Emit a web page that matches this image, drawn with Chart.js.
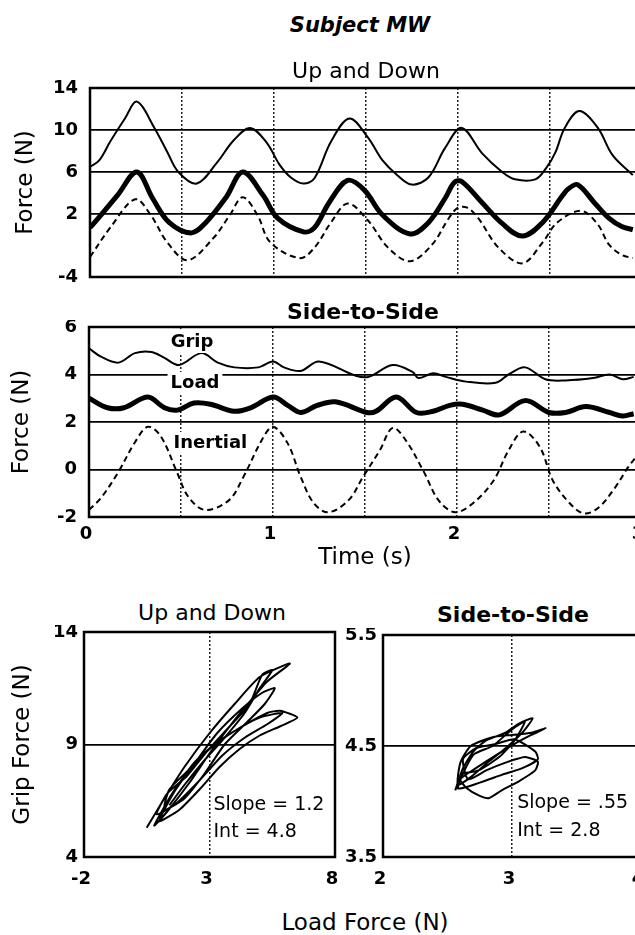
<!DOCTYPE html>
<html>
<head>
<meta charset="utf-8">
<title>Subject MW</title>
<script src="https://cdn.jsdelivr.net/npm/chart.js@4.4.0/dist/chart.umd.min.js"></script>
<style>
  html, body { margin: 0; padding: 0; background: #fff; width: 635px; height: 935px; overflow: hidden; }
  #fig { position: relative; width: 635px; height: 935px; overflow: hidden; }
  canvas { position: absolute; }
  .lbl { position: absolute; transform: translate(-50%, -50%); white-space: nowrap;
         font-family: "DejaVu Sans", sans-serif; color: #000; line-height: 1; }
</style>
</head>
<body>
<div id="fig">
  <canvas id="udTime" width="650" height="205" style="left:0;top:80px"></canvas>
  <canvas id="ssTime" width="650" height="252" style="left:0;top:320px"></canvas>
  <canvas id="udLoop" width="345" height="280" style="left:0;top:625px"></canvas>
  <canvas id="ssLoop" width="300" height="277" style="left:345px;top:628px"></canvas>

  <div class="lbl" style="left:360px;top:25px;font-size:21px;font-weight:bold;font-style:italic">Subject MW</div>
  <div class="lbl" style="left:366px;top:71px;font-size:22px">Up and Down</div>
  <div class="lbl" style="left:363px;top:312px;font-size:22px;font-weight:bold">Side-to-Side</div>
  <div class="lbl" style="left:212px;top:613px;font-size:22px">Up and Down</div>
  <div class="lbl" style="left:513px;top:615px;font-size:22px;font-weight:bold">Side-to-Side</div>
  <div class="lbl" style="left:365px;top:922px;font-size:23px">Load Force (N)</div>
</div>

<script>
// ---- Up and Down: force vs time (s) ----
const udGripTime  = [0, 0.05, 0.11, 0.19, 0.255, 0.35, 0.42, 0.48, 0.58, 0.69, 0.78, 0.87, 0.96, 1.03, 1.09, 1.16, 1.22, 1.31, 1.41, 1.51, 1.59, 1.67, 1.75, 1.84, 1.93, 2.02, 2.13, 2.24, 2.31, 2.42, 2.48, 2.53, 2.58, 2.66, 2.76, 2.84, 2.95];
const udGripForce = [6.5, 7.1, 8.9, 11.1, 12.7, 10.2, 7.9, 6.0, 4.9, 6.9, 9.0, 10.2, 8.8, 6.7, 5.5, 4.9, 5.4, 8.9, 11.1, 9.3, 7.1, 5.7, 4.8, 5.5, 8.3, 10.2, 7.8, 6.0, 5.3, 5.3, 6.4, 7.9, 10.2, 11.8, 10.2, 7.6, 5.7];

const udLoadTime  = [0, 0.05, 0.15, 0.255, 0.34, 0.43, 0.55, 0.63, 0.74, 0.83, 0.94, 1.02, 1.16, 1.22, 1.30, 1.40, 1.49, 1.59, 1.74, 1.84, 1.93, 1.98, 2.02, 2.13, 2.24, 2.35, 2.46, 2.57, 2.60, 2.65, 2.74, 2.82, 2.89, 2.95];
const udLoadForce = [0.7, 1.7, 3.8, 6.0, 3.5, 1.2, 0.2, 1.2, 3.6, 6.0, 3.8, 1.6, 0.3, 0.7, 3.1, 5.2, 4.3, 1.9, 0.1, 1.2, 3.5, 5.0, 5.1, 3.1, 1.1, -0.1, 1.2, 3.8, 4.4, 4.8, 3.1, 1.6, 0.8, 0.5];

const udInertTime  = [0, 0.11, 0.245, 0.33, 0.42, 0.53, 0.67, 0.76, 0.83, 0.91, 0.98, 1.14, 1.22, 1.31, 1.40, 1.51, 1.62, 1.74, 1.86, 1.95, 2.0, 2.05, 2.11, 2.22, 2.35, 2.46, 2.54, 2.67, 2.76, 2.82, 2.89, 2.95];
const udInertForce = [-2.1, 0.7, 3.4, 1.9, -0.7, -2.4, -0.3, 1.9, 3.6, 1.9, -0.7, -2.2, -1.2, 1.2, 3.0, 1.4, -1.2, -2.5, -0.9, 1.6, 2.6, 2.6, 1.6, -1.2, -2.7, -0.7, 1.2, 2.3, 1.0, -0.9, -1.9, -2.2];

const udForceTicks = [-4, 2, 6, 10, 14];

// ---- Side-to-Side: force vs time (s) ----
const ssGripTime  = [0, 0.065, 0.16, 0.25, 0.34, 0.41, 0.49, 0.61, 0.70, 0.79, 0.92, 1.0, 1.06, 1.15, 1.25, 1.45, 1.52, 1.65, 1.76, 1.79, 1.87, 1.94, 2.05, 2.21, 2.28, 2.37, 2.48, 2.59, 2.74, 2.83, 2.90, 2.96];
const ssGripForce = [5.1, 4.75, 4.5, 4.9, 4.95, 4.7, 4.4, 4.9, 4.5, 4.3, 4.3, 4.55, 4.3, 4.15, 4.55, 3.95, 3.9, 4.4, 4.1, 3.85, 4.05, 3.9, 3.7, 3.65, 4.0, 4.3, 3.8, 3.75, 3.85, 4.0, 3.8, 3.9];

const ssLoadTime  = [0, 0.10, 0.19, 0.32, 0.41, 0.48, 0.57, 0.66, 0.79, 0.88, 1.0, 1.08, 1.15, 1.24, 1.34, 1.51, 1.56, 1.67, 1.78, 1.87, 1.96, 2.03, 2.14, 2.23, 2.37, 2.50, 2.59, 2.70, 2.83, 2.90, 2.96];
const ssLoadForce = [3.0, 2.6, 2.6, 3.05, 2.6, 2.5, 2.8, 2.75, 2.45, 2.6, 3.05, 2.7, 2.4, 2.7, 2.85, 2.4, 2.45, 3.05, 2.4, 2.45, 2.7, 2.75, 2.5, 2.3, 2.9, 2.4, 2.4, 2.65, 2.4, 2.25, 2.35];

const ssInertTime  = [0, 0.065, 0.16, 0.25, 0.32, 0.39, 0.48, 0.54, 0.63, 0.76, 0.84, 0.94, 1.0, 1.08, 1.15, 1.22, 1.30, 1.41, 1.49, 1.58, 1.65, 1.72, 1.82, 1.90, 1.99, 2.09, 2.20, 2.28, 2.36, 2.45, 2.52, 2.61, 2.69, 2.77, 2.86, 2.93, 2.97];
const ssInertForce = [-1.7, -1.2, -0.1, 1.15, 1.8, 1.4, -0.15, -1.15, -1.7, -1.3, -0.3, 1.25, 1.8, 1.1, -0.3, -1.4, -1.8, -1.3, -0.3, 0.8, 1.75, 1.25, -0.1, -1.3, -1.8, -1.4, -0.45, 0.8, 1.6, 0.95, -0.45, -1.4, -1.85, -1.6, -0.75, 0.1, 0.5];

// ---- grip vs load loops ----
const udLoopLoad = [0.5, 1.2, 2.0, 3.0, 4.0, 5.0, 6.2, 5.3, 4.6, 3.8, 3.0, 2.2, 1.3, 0.8,
                    1.5, 2.4, 3.3, 4.3, 5.3, 5.8, 6.5, 5.8, 5.0, 4.2, 3.4, 2.6, 1.8, 1.0,
                    1.6, 2.5, 3.3, 4.3, 5.1, 5.6, 5.2, 4.5, 3.6, 2.8, 2.0, 1.2,
                    1.4, 2.2, 3.0, 4.0, 5.0, 5.9, 5.3, 4.4, 3.5, 2.6, 1.7, 0.9,
                    1.3, 2.1, 2.9, 3.8, 4.6, 5.1, 5.5, 5.0, 4.4, 3.6, 2.8, 2.0, 1.4];
const udLoopGrip = [5.3, 6.6, 8.0, 9.5, 10.8, 12.0, 12.6, 11.8, 10.9, 9.8, 8.6, 7.3, 6.0, 5.4,
                    6.8, 8.2, 9.1, 9.8, 10.4, 10.5, 10.2, 9.8, 9.4, 8.8, 8.0, 7.0, 6.1, 5.6,
                    6.9, 8.3, 9.5, 10.6, 11.3, 11.5, 10.8, 10.0, 9.0, 7.7, 6.6, 6.1,
                    7.0, 7.9, 8.8, 9.6, 10.2, 10.4, 9.9, 9.3, 8.5, 7.4, 6.4, 5.9,
                    6.8, 7.6, 8.7, 9.8, 10.8, 12.1, 12.3, 11.5, 10.4, 9.3, 8.3, 7.2, 6.3];

const ssLoopLoad = [2.56, 2.62, 2.70, 2.80, 2.95, 3.05, 3.16, 3.08, 2.95, 2.82, 2.68, 2.58,
                    2.60, 2.68, 2.85, 3.00, 3.15, 3.26, 3.15, 3.02, 2.88, 2.72, 2.60,
                    2.65, 2.75, 2.82, 2.92, 3.05, 3.18, 3.20, 3.10, 2.95, 2.80, 2.66,
                    2.62, 2.72, 2.88, 3.02, 3.18, 3.20, 3.08, 2.92, 2.75, 2.58,
                    2.70, 2.85, 3.00, 3.10, 3.02, 2.90, 2.74, 2.60];
const ssLoopGrip = [4.10, 4.30, 4.45, 4.55, 4.62, 4.70, 4.75, 4.62, 4.48, 4.36, 4.22, 4.15,
                    4.35, 4.50, 4.58, 4.60, 4.62, 4.66, 4.60, 4.52, 4.42, 4.30, 4.20,
                    4.12, 4.05, 4.03, 4.10, 4.18, 4.28, 4.36, 4.40, 4.35, 4.28, 4.20,
                    4.38, 4.48, 4.52, 4.56, 4.45, 4.38, 4.30, 4.24, 4.17, 4.12,
                    4.42, 4.50, 4.65, 4.72, 4.55, 4.40, 4.28, 4.25];

const FONT = '"DejaVu Sans", sans-serif';

// zip two arrays into {x, y} points
function pts(xs, ys) {
  return xs.map((x, i) => ({ x: x, y: ys[i] }));
}

// fixed axis size, and no extra room for overhanging tick labels
function fixSize(width, height) {
  return function (scale) {
    if (width !== null) scale.width = width;
    if (height !== null) scale.height = height;
    scale.paddingTop = 0;
    scale.paddingBottom = 0;
    scale.paddingLeft = 0;
    scale.paddingRight = 0;
  };
}

// black frame round the plot area
const framePlugin = {
  id: 'frame',
  afterDraw(chart) {
    const a = chart.chartArea;
    const ctx = chart.ctx;
    ctx.save();
    ctx.strokeStyle = '#000';
    ctx.lineWidth = 2.5;
    ctx.strokeRect(a.left, a.top, a.right - a.left, a.bottom - a.top);
    ctx.restore();
  }
};

// text placed at data coordinates, optionally on a white patch
const textPlugin = {
  id: 'texts',
  afterDatasetsDraw(chart, args, opts) {
    const ctx = chart.ctx;
    (opts.items || []).forEach(item => {
      const px = chart.scales.x.getPixelForValue(item.x);
      const py = chart.scales.y.getPixelForValue(item.y);
      ctx.save();
      ctx.font = item.font;
      ctx.textAlign = item.align || 'center';
      ctx.textBaseline = 'middle';
      if (item.bg) {
        const w = ctx.measureText(item.text).width;
        const x0 = item.align === 'left' ? px : px - w / 2;
        ctx.fillStyle = '#fff';
        ctx.fillRect(x0 - 3, py - 11, w + 6, 22);
      }
      ctx.fillStyle = '#000';
      ctx.fillText(item.text, px, py);
      ctx.restore();
    });
  }
};

const tickFont = { family: FONT, size: 18, weight: 'bold' };
const titleFont = { family: FONT, size: 23 };

function timeSeries(grip, load, inert) {
  return [
    { data: grip, borderColor: '#000', borderWidth: 2, pointRadius: 0, tension: 0.35, fill: false },
    { data: load, borderColor: '#000', borderWidth: 5, pointRadius: 0, tension: 0.35, fill: false },
    { data: inert, borderColor: '#000', borderWidth: 2, borderDash: [6, 4], pointRadius: 0, tension: 0.35, fill: false }
  ];
}

// Up and Down time plot
new Chart(document.getElementById('udTime'), {
  type: 'line',
  data: { datasets: timeSeries(pts(udGripTime, udGripForce), pts(udLoadTime, udLoadForce), pts(udInertTime, udInertForce)) },
  options: {
    responsive: false, animation: false,
    layout: { padding: { top: 8, right: 8, bottom: 0, left: 0 } },
    plugins: { legend: { display: false }, tooltip: { enabled: false } },
    scales: {
      x: {
        type: 'linear', min: 0, max: 3,
        ticks: { display: false, stepSize: 0.5, autoSkip: false },
        grid: { color: '#222', lineWidth: 1.5, drawTicks: false, borderDash: [2, 2] },
        border: { display: false, dash: [2, 2] },
        afterFit: fixSize(null, 8)
      },
      y: {
        min: -4, max: 14,
        afterBuildTicks(scale) { scale.ticks = udForceTicks.map(v => ({ value: v })); },
        ticks: { color: '#000', font: tickFont, padding: 12 },
        grid: { color: '#000', lineWidth: 1.8, drawTicks: false },
        border: { display: false },
        title: { display: true, text: 'Force (N)', color: '#000', font: titleFont, padding: { top: 12, bottom: 0 } },
        afterFit: fixSize(90, null)
      }
    }
  },
  plugins: [framePlugin]
});

// Side-to-Side time plot
new Chart(document.getElementById('ssTime'), {
  type: 'line',
  data: { datasets: timeSeries(pts(ssGripTime, ssGripForce), pts(ssLoadTime, ssLoadForce), pts(ssInertTime, ssInertForce)) },
  options: {
    responsive: false, animation: false,
    layout: { padding: { top: 7, right: 9, bottom: 0, left: 0 } },
    plugins: {
      legend: { display: false }, tooltip: { enabled: false },
      texts: {
        items: [
          { text: 'Grip', x: 0.56, y: 5.37, font: 'bold 18px ' + FONT, bg: true },
          { text: 'Load', x: 0.576, y: 3.64, font: 'bold 18px ' + FONT, bg: true },
          { text: 'Inertial', x: 0.66, y: 1.12, font: 'bold 18px ' + FONT, bg: true }
        ]
      }
    },
    scales: {
      x: {
        type: 'linear', min: 0, max: 3,
        ticks: {
          stepSize: 0.5, autoSkip: false, maxRotation: 0, color: '#000', font: tickFont, padding: 7, labelOffset: -3,
          callback: v => Number.isInteger(v) ? String(v) : ''
        },
        grid: { color: '#222', lineWidth: 1.5, drawTicks: false, borderDash: [2, 2] },
        border: { display: false, dash: [2, 2] },
        title: { display: true, text: 'Time (s)', color: '#000', font: titleFont, padding: { top: 0, bottom: 0 } },
        afterFit: fixSize(null, 55)
      },
      y: {
        min: -2, max: 6,
        ticks: { stepSize: 2, color: '#000', font: tickFont, padding: 12 },
        grid: { color: '#000', lineWidth: 1.8, drawTicks: false },
        border: { display: false },
        title: { display: true, text: 'Force (N)', color: '#000', font: titleFont, padding: { top: 8, bottom: 0 } },
        afterFit: fixSize(89, null)
      }
    }
  },
  plugins: [framePlugin, textPlugin]
});

function loopChart(id, points, xr, yr, yTitle, yWidth, padRight, notes) {
  return new Chart(document.getElementById(id), {
    type: 'line',
    data: { datasets: [{ data: points, borderColor: '#000', borderWidth: 2, pointRadius: 0, tension: 0.2, fill: false }] },
    options: {
      responsive: false, animation: false,
      layout: { padding: { top: 7, right: padRight, bottom: 0, left: 0 } },
      plugins: { legend: { display: false }, tooltip: { enabled: false }, texts: { items: notes } },
      scales: {
        x: {
          type: 'linear', min: xr[0], max: xr[1],
          ticks: { stepSize: xr[2], autoSkip: false, maxRotation: 0, color: '#000', font: tickFont, padding: 12, labelOffset: -3 },
          grid: { color: '#222', lineWidth: 1.5, drawTicks: false, borderDash: [2, 2] },
          border: { display: false, dash: [2, 2] },
          afterFit: fixSize(null, 48)
        },
        y: {
          min: yr[0], max: yr[1],
          ticks: { stepSize: yr[2], color: '#000', font: tickFont, padding: 6,
                   callback: v => yr[2] < 5 ? v.toFixed(1) : String(v) },
          grid: { color: '#000', lineWidth: 1.8, drawTicks: false },
          border: { display: false },
          title: { display: !!yTitle, text: yTitle, color: '#000', font: titleFont, padding: { top: 9, bottom: 0 } },
          afterFit: fixSize(yWidth, null)
        }
      }
    },
    plugins: [framePlugin, textPlugin]
  });
}

const noteFont = '19px ' + FONT;

loopChart('udLoop', pts(udLoopLoad, udLoopGrip), [-2, 8, 5], [4, 14, 5], 'Grip Force (N)', 84, 10, [
  { text: 'Slope = 1.2', x: 3.16, y: 6.31, font: noteFont, align: 'left' },
  { text: 'Int = 4.8', x: 3.16, y: 5.11, font: noteFont, align: 'left' }
]);

loopChart('ssLoop', pts(ssLoopLoad, ssLoopGrip), [2, 4, 1], [3.5, 5.5, 1], '', 38, 4, [
  { text: 'Slope = .55', x: 3.04, y: 3.99, font: noteFont, align: 'left' },
  { text: 'Int = 2.8', x: 3.04, y: 3.73, font: noteFont, align: 'left' }
]);
</script>
</body>
</html>
